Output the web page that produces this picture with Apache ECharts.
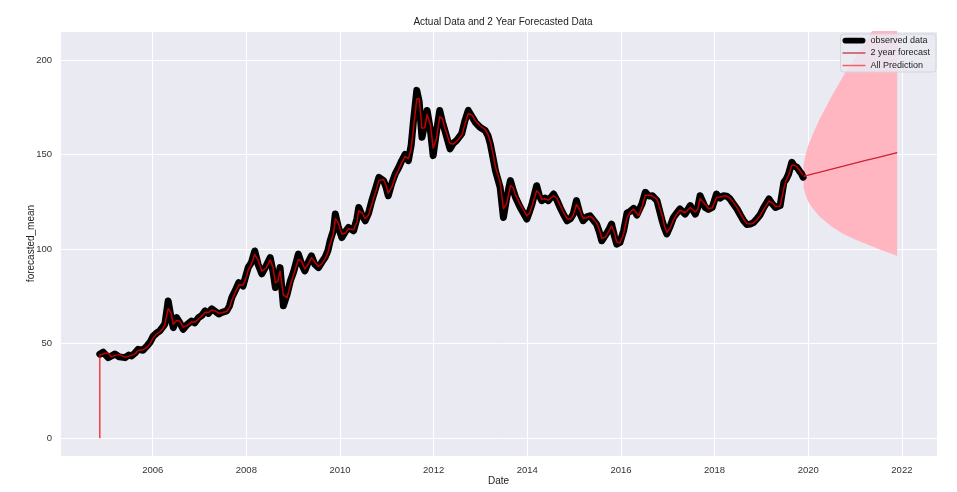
<!DOCTYPE html>
<html>
<head>
<meta charset="utf-8">
<script src="https://cdn.jsdelivr.net/npm/echarts@6/dist/echarts.min.js"></script>
<style>html,body{margin:0;padding:0;background:#fff;}#chart{width:957px;height:492px;}</style>
</head>
<body>
<div id="chart"></div>
<script>
// ---- Data (decimal years) ----
const obsYears = [2004.87,2004.94,2005.05,2005.12,2005.19,2005.29,2005.41,2005.49,2005.55,2005.62,
2005.69,2005.79,2005.88,2005.95,2006.01,2006.08,2006.15,2006.22,2006.26,2006.33,
2006.39,2006.44,2006.51,2006.58,2006.65,2006.73,2006.83,2006.90,2006.98,2007.05,
2007.12,2007.19,2007.26,2007.34,2007.41,2007.48,2007.58,2007.64,2007.69,2007.76,
2007.84,2007.93,2007.99,2008.04,2008.11,2008.18,2008.25,2008.33,2008.42,2008.51,
2008.57,2008.62,2008.67,2008.72,2008.79,2008.87,2008.94,2009.01,2009.11,2009.18,
2009.25,2009.32,2009.39,2009.46,2009.54,2009.61,2009.68,2009.74,2009.79,2009.86,
2009.90,2009.96,2010.04,2010.11,2010.18,2010.29,2010.36,2010.40,2010.47,2010.54,
2010.61,2010.68,2010.76,2010.83,2010.93,2010.98,2011.03,2011.11,2011.18,2011.25,
2011.32,2011.39,2011.46,2011.52,2011.57,2011.64,2011.69,2011.75,2011.81,2011.86,
2011.93,2011.99,2012.06,2012.13,2012.19,2012.24,2012.35,2012.42,2012.49,2012.60,
2012.67,2012.74,2012.82,2012.89,2012.99,2013.10,2013.16,2013.21,2013.27,2013.32,
2013.42,2013.49,2013.56,2013.64,2013.70,2013.75,2013.85,2013.99,2014.05,2014.10,
2014.20,2014.26,2014.31,2014.38,2014.45,2014.56,2014.63,2014.70,2014.78,2014.85,
2014.92,2014.98,2015.05,2015.12,2015.19,2015.27,2015.34,2015.42,2015.48,2015.54,
2015.59,2015.66,2015.73,2015.80,2015.86,2015.91,2015.98,2016.06,2016.13,2016.20,
2016.27,2016.34,2016.38,2016.45,2016.52,2016.60,2016.67,2016.77,2016.88,2016.93,
2016.98,2017.05,2017.12,2017.19,2017.26,2017.37,2017.48,2017.59,2017.64,2017.69,
2017.80,2017.87,2017.95,2018.04,2018.12,2018.19,2018.26,2018.33,2018.40,2018.48,
2018.55,2018.62,2018.69,2018.76,2018.83,2018.90,2018.97,2019.05,2019.16,2019.23,
2019.30,2019.40,2019.48,2019.53,2019.58,2019.65,2019.70,2019.76,2019.82,2019.86,
2019.89];

const obsValues = [44.4,45.5,42.6,43.5,44.5,43.0,42.6,44.0,43.5,45.0,
47,46.5,48.8,51,54,55.5,56.7,59,60.4,72.6,
64,58.5,63.8,61,57.6,60,62,61,63.8,65,
67.3,66,68.4,67,65.7,66.5,67.3,70,74.4,78,
82.3,80.5,86,90.3,93,99,92,86.9,91,95.5,
88,79.7,84,90.2,70,76,83.2,88,97.3,92,
88.5,93,96.4,92,90.2,93,95.5,99,104.4,110,
118.6,112,106.1,109,111.4,109.7,116,122,118,115,
119,125.6,132,137.9,136.2,133,128.2,135,139.7,143,
146.8,150,146.8,155,168,183.9,178,159.1,166,173.3,
163,149.4,162,173.3,167,162.7,153,156,157.4,161,
168,173.3,170,167,164.4,162.7,160,155.6,148,141.5,
132.6,116.7,127,136.2,131,127.3,122,115.9,120,123.8,
133.5,128,125.6,127,125.6,129.1,126,122,118,115,
116,118.5,125.6,119,115,117,117.6,115,113.2,109,
104.4,107,109.7,113.2,107,102.6,103.5,110,119,120,
121.5,118,117.5,124,130,128,128.2,125.6,115,111,
108,112,116.7,119,121.2,118.5,123,118.5,122,128.2,
122,121,122,129.1,127,128.2,128,126.5,124,121.2,
118,115,113,113.2,114,115.9,118,122,126.5,124,
122,123,135.3,137,139.7,145.9,144,143.2,141,139.7,
138];

// in-sample prediction: starts at 0, then follows the observed series
const predFirstValue = 0;
const predValues = [44,44.6,45.0,43.0,43.8,44.2,42.9,43.4,43.8,44.6,
46.4,46.8,48.1,50.2,53.1,55.0,56.3,58.2,60.0,68.5,
66.4,60.2,62.2,61.8,58.8,59.4,61.5,61.4,63.0,64.6,
66.6,66.5,67.8,67.3,66.1,66.3,67.0,69.2,73.1,77.0,
81.1,81.0,84.4,89.0,92.2,97.2,94.2,88.4,90.0,94.2,
90.2,82.2,83.0,88.4,75.8,74.3,81.1,86.6,94.5,93.6,
89.5,92.0,95.4,93.3,90.8,92.2,94.8,98.0,102.8,108.3,
116.0,114.0,108.0,108.4,110.7,110.2,114.2,120.2,119.2,116.0,
118.0,123.7,130.0,136.2,136.8,133.9,129.6,133.0,138.4,142.0,
145.7,149.0,147.8,153.0,164.2,179.4,179.6,163.9,164.2,171.2,
165.9,153.4,158.3,170.0,168.8,163.9,155.8,155.5,157.0,160.0,
166.2,171.7,170.9,167.8,165.2,163.2,160.7,156.9,150.2,143.4,
135.2,121.4,124.0,133.6,132.5,128.4,123.6,117.6,119.0,122.8,
130.8,129.4,126.3,126.6,125.9,128.2,126.9,123.2,119.2,116.0,
115.8,117.8,123.6,120.8,116.2,116.6,117.4,115.7,113.7,110.2,
105.7,106.2,109.0,112.2,108.6,103.8,103.2,108.4,116.6,119.6,
121.1,118.9,117.6,122.4,128.4,128.5,128.2,126.3,117.8,112.2,
108.9,111.0,115.4,118.4,120.6,119.2,122.0,119.6,121.2,126.6,
123.6,121.3,121.8,127.3,127.5,128.0,128.0,126.9,124.7,121.9,
118.8,115.8,113.5,113.2,113.8,115.4,117.5,121.0,125.4,124.5,
122.5,122.8,132.2,136.5,139.0,144.3,144.4,143.4,141.5,140.0,
139.0];

// 2-year forecast with confidence interval
const fcYears = [2019.90,2019.95,2020.00,2020.10,2020.25,2020.50,2020.75,2021.00,2021.25,2021.50,2021.75,2021.90];
const fcMean  = [138.5,138.8,139.1,139.8,140.7,142.3,143.8,145.4,147.0,148.5,150.1,151.0];
const fcLower = [132.5,128.0,125.0,121.5,117.0,112.0,108.0,105.0,102.5,100.0,97.8,96.4];
const fcUpper = [144.8,150.5,154.8,160.9,169.0,180.8,191.5,201.3,210.8,220.5,230.4,236.7];

const xTickYears = [2006,2008,2010,2012,2014,2016,2018,2020,2022];
const yTickValues = [0,50,100,150,200];

// ---- Build series data ----
const n = Math.min(obsYears.length, obsValues.length, predValues.length);
const obsData = [], predData = [[obsYears[0], predFirstValue]];
for (let i = 0; i < n; i++) {
  obsData.push([obsYears[i], obsValues[i]]);
  predData.push([obsYears[i], predValues[i]]);
}
const fcData = fcYears.map((y, i) => [y, fcMean[i]]);

const FONT = '"Liberation Sans", Arial, sans-serif';
const chart = echarts.init(document.getElementById('chart'), null, {renderer: 'canvas'});

function renderBand(params, api) {
  const pts = [];
  for (let i = 0; i < fcYears.length; i++) pts.push(api.coord([fcYears[i], fcUpper[i]]));
  for (let i = fcYears.length - 1; i >= 0; i--) pts.push(api.coord([fcYears[i], fcLower[i]]));
  const cs = params.coordSys;
  return {
    type: 'polygon',
    shape: {points: pts},
    style: {fill: '#FFB6C1', stroke: 'none'},
    clipPath: {type: 'rect', shape: {x: cs.x, y: cs.y, width: cs.width, height: cs.height}}
  };
}

chart.setOption({
  animation: false,
  backgroundColor: '#ffffff',
  title: {
    text: 'Actual Data and 2 Year Forecasted Data',
    left: 498, top: 12, textAlign: 'center',
    textStyle: {fontFamily: FONT, fontSize: 10, fontWeight: 'normal', color: '#222'}
  },
  legend: {
    data: [
      {name: 'observed data', icon: 'path://M3,0 H21 A3,3 0 0 1 21,6 H3 A3,3 0 0 1 3,0 Z'},
      {name: '2 year forecast', icon: 'path://M0,0 H24 V1.2 H0 Z'},
      {name: 'All Prediction', icon: 'path://M0,0 H24 V1.5 H0 Z'}
    ],
    orient: 'vertical', right: 21, top: 34,
    itemWidth: 23, itemHeight: 10, itemGap: 3.5,
    padding: [2, 6, 2, 2],
    backgroundColor: 'rgba(234,234,242,0.85)',
    borderColor: '#d4d4dc', borderWidth: 1, borderRadius: 3,
    textStyle: {fontFamily: FONT, fontSize: 9, color: '#222'}
  },
  grid: {left: 60, right: 20, top: 31, bottom: 36, show: true, backgroundColor: '#EAEAF2', borderWidth: 0},
  xAxis: {
    type: 'value', min: 2004.02, max: 2022.75, splitNumber: 9,
    name: 'Date', nameLocation: 'middle', nameGap: 20, nameMoveOverlap: false,
    nameTextStyle: {fontFamily: FONT, fontSize: 10, color: '#222'},
    axisLine: {show: false}, axisTick: {show: false},
    axisLabel: {
      fontFamily: FONT, fontSize: 9.5, color: '#333', margin: 9,
      showMinLabel: false, showMaxLabel: false,
      formatter: v => xTickYears.indexOf(Math.round(v * 1000) / 1000) >= 0 ? String(v) : ''
    },
    splitLine: {show: true, lineStyle: {color: '#ffffff', width: 1}}
  },
  yAxis: {
    type: 'value', min: -9.4, max: 215.3, splitNumber: 5,
    name: 'forecasted_mean', nameLocation: 'middle', nameGap: 24, nameMoveOverlap: false,
    nameTextStyle: {fontFamily: FONT, fontSize: 10, color: '#222'},
    axisLine: {show: false}, axisTick: {show: false},
    axisLabel: {
      fontFamily: FONT, fontSize: 9.5, color: '#333', margin: 8,
      showMinLabel: false, showMaxLabel: false,
      formatter: v => yTickValues.indexOf(Math.round(v * 1000) / 1000) >= 0 ? String(v) : ''
    },
    splitLine: {show: true, lineStyle: {color: '#ffffff', width: 1}}
  },
  series: [
    {
      name: 'confidence', type: 'custom', renderItem: renderBand,
      data: [0], silent: true, z: 1
    },
    {
      name: 'observed data', type: 'line', data: obsData, symbol: 'none',
      lineStyle: {color: '#000000', width: 7, cap: 'round', join: 'round'},
      itemStyle: {color: '#000000'}, z: 2, clip: true
    },
    {
      name: '2 year forecast', type: 'line', data: fcData, symbol: 'none',
      lineStyle: {color: '#cc2233', width: 1.3},
      itemStyle: {color: '#b8202e'}, z: 4, clip: true
    },
    {
      name: 'All Prediction', type: 'line', data: predData, symbol: 'none',
      lineStyle: {color: 'rgba(255,0,0,0.75)', width: 1.5, join: 'round'},
      itemStyle: {color: 'rgba(240,80,80,0.9)'}, z: 3, clip: true
    }
  ]
});
</script>
</body>
</html>
